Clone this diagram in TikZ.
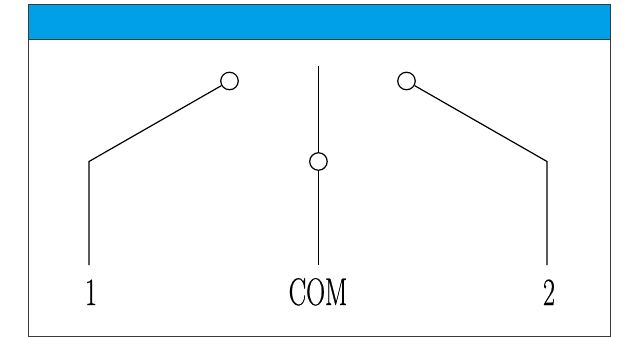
\documentclass[tikz,border=0pt]{standalone}
\usepackage{fontspec}
\setmainfont[FakeBold=0.6]{Latin Modern Roman}
\definecolor{headblue}{HTML}{00A0E9}
\definecolor{frameline}{HTML}{40393A}
\tikzset{
  x=1pt,y=-1pt,
  contact/.style={circle,draw=black,fill=white,line width=1.2pt,minimum size=17.5pt,inner sep=0pt},
  wire/.style={draw=black,line width=1.2pt,line join=miter},
  terminal/.style={xscale=0.68,yscale=1,transform shape,inner sep=0pt,font=\fontsize{38.5}{38.5}\selectfont,anchor=base},
}
\begin{document}
\begin{tikzpicture}
\useasboundingbox (0,0) rectangle (625,337);
\fill[white] (0,0) rectangle (625,337);
\draw[frameline,line width=1pt,fill=white] (28,5) rectangle (610.5,336.5);
\draw[frameline,line width=1pt,fill=headblue] (28,5) rectangle (610.5,39.5);
\node[contact] (c1) at (229.5,81) {};
\node[contact] (c2) at (406.5,81) {};
\node[contact] (cc) at (318.45,161.5) {};
\coordinate (b1) at (89,161.5);
\coordinate (e1) at (89,265);
\coordinate (b2) at (547,161.5);
\coordinate (e2) at (547,265);
\coordinate (ct) at (318.45,66);
\coordinate (ce) at (318.45,265);
\draw[wire] (c1) -- (b1) -- (e1);
\draw[wire] (c2) -- (b2) -- (e2);
\draw[wire] (ct) -- (cc);
\draw[wire] (cc) -- (ce);
\node[terminal] (l1) at (91,305) {1};
\node[terminal] (lc) at (318,305) {COM};
\node[terminal] (l2) at (549,305) {2};
\end{tikzpicture}
\end{document}
